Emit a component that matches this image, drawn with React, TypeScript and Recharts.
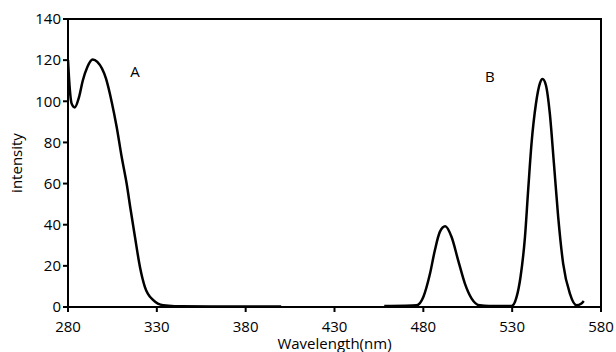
import React from 'react';
import {
  LineChart,
  Line,
  XAxis,
  YAxis,
  ReferenceArea,
  ReferenceDot,
} from 'recharts';

// excitation spectrum (A)
const aWavelength = [
  280, 281, 282, 283.8, 286.2, 288.3, 290.9, 293.9, 296.5, 301.4, 304.6, 307.4,
  310.2, 313, 315.3, 317.7, 320.5, 323.3, 328, 333.6, 340, 360, 380, 400,
];
const aIntensity = [
  120, 106, 99, 97, 102, 110, 116.7, 120.3, 119.2, 111, 99.7, 87.5, 73, 60, 47,
  34, 19.5, 9.7, 3.3, 0.8, 0.4, 0.3, 0.3, 0.3,
];

// emission spectrum (B)
const bWavelength = [
  458, 470, 476.2, 480, 483.7, 486.5, 489.3, 492.3, 495.9, 499.6, 503.4, 507.2,
  511.8, 517, 529.7, 532.5, 534.7, 537.2, 539, 540.9, 543.4, 545.6, 547.1, 549,
  551.2, 553.5, 555.9, 558.7, 562.5, 566.2, 569, 570.3,
];
const bIntensity = [
  0.5, 0.6, 0.8, 4.9, 16, 27.6, 36.5, 39.2, 34, 22.7, 11.4, 4.1, 0.8, 0.5, 0.5,
  4.9, 14.6, 34, 56.8, 79.5, 98.9, 108.7, 110.8, 107.8, 94, 69.8, 43.8, 21.1,
  6.5, 0.8, 1.7, 2.9,
];

const xTicks = [280, 330, 380, 430, 480, 530, 580];
const yTicks = [0, 20, 40, 60, 80, 100, 120, 140];

const curveA = aWavelength.map((x, i) => ({ x, y: aIntensity[i] }));
const curveB = bWavelength.map((x, i) => ({ x, y: bIntensity[i] }));

const font = '"Open Sans", sans-serif';
const tickStyle = { fontSize: 15, fill: '#000', fontFamily: font };

const letter = (text: string) => (props: any) => (
  <text
    x={props.cx}
    y={props.cy}
    textAnchor="middle"
    dominantBaseline="central"
    fontSize={15}
    fontFamily={font}
    fill="#000"
  >
    {text}
  </text>
);

export default function App() {
  return (
    <div style={{ position: 'absolute', left: 0, top: 0, background: '#fff' }}>
      <LineChart
        width={616}
        height={352}
        margin={{ top: 19, right: 15, bottom: 0, left: 0 }}
      >
        <XAxis
          type="number"
          dataKey="x"
          domain={[280, 580]}
          ticks={xTicks}
          allowDataOverflow
          height={45}
          tick={tickStyle}
          tickSize={5}
          tickMargin={9}
          stroke="#000"
          strokeWidth={2}
          label={{
            value: 'Wavelength(nm)',
            position: 'insideBottom',
            offset: 3,
            style: { fontSize: 15, fill: '#000', fontFamily: font },
          }}
        />
        <YAxis
          type="number"
          dataKey="y"
          domain={[0, 140]}
          ticks={yTicks}
          width={68}
          tick={tickStyle}
          tickSize={5}
          tickMargin={2}
          stroke="#000"
          strokeWidth={2}
          label={{
            value: 'intensity',
            angle: -90,
            position: 'insideLeft',
            offset: 17,
            style: {
              fontSize: 15,
              fill: '#000',
              fontFamily: font,
              textAnchor: 'middle',
            },
          }}
        />
        <ReferenceArea
          x1={280}
          x2={580}
          y1={0}
          y2={140}
          fill="none"
          stroke="#000"
          strokeWidth={2}
        />
        <Line
          data={curveA}
          dataKey="y"
          type="monotone"
          stroke="#000"
          strokeWidth={2.5}
          dot={false}
          isAnimationActive={false}
        />
        <Line
          data={curveB}
          dataKey="y"
          type="monotone"
          stroke="#000"
          strokeWidth={2.5}
          dot={false}
          isAnimationActive={false}
        />
        <ReferenceDot x={317.7} y={114.6} r={0} shape={letter('A')} />
        <ReferenceDot x={517.5} y={112.2} r={0} shape={letter('B')} />
      </LineChart>
    </div>
  );
}
